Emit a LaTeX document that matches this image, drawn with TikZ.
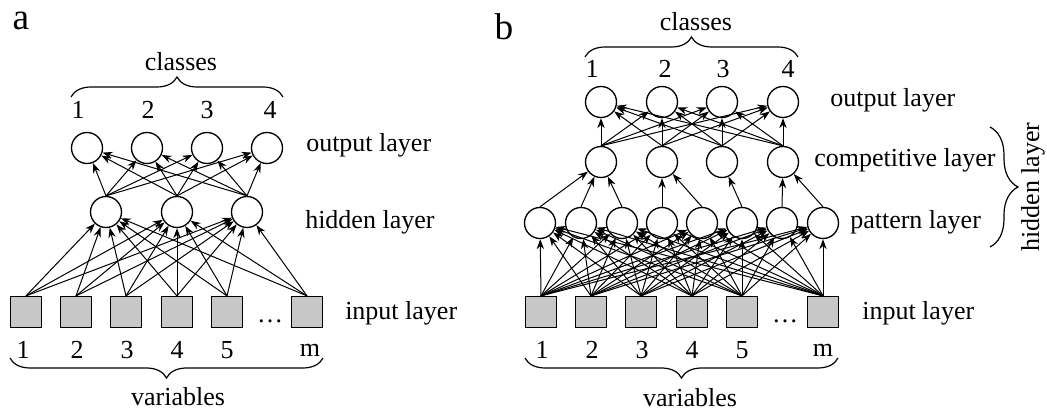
\documentclass[tikz,border=0pt]{standalone}
\usepackage{fontspec}
\setmainfont{Liberation Serif}
\usetikzlibrary{positioning,arrows.meta,decorations.pathreplacing}

\begin{document}
\begin{tikzpicture}[y=.75pt, x=.75pt, font=\fontsize{19.5}{23}\selectfont,
  neuron/.style={circle,draw,line width=1pt,minimum size=23.25pt,inner sep=0pt},
  inbox/.style={rectangle,draw,line width=.9pt,fill=black!22,minimum size=23.25pt,inner sep=0pt},
  conn/.style={line width=.75pt,-{Stealth[length=7.5pt,width=5.5pt]}},
  brc/.style={decorate,line width=.9pt,decoration={brace,amplitude=#1}},
  lbl/.style={anchor=west,inner sep=0pt},
  tag/.style={inner sep=0pt,font=\fontsize{28}{32}\selectfont}]
\useasboundingbox (0,0) rectangle (1047,-416);

% panel a
\node[tag] (ta) at (21,-21) {a};
\node (acls) at (181,-62) {classes};
\foreach \n/\x/\t in {1/78/1,2/148/2,3/207/3,4/270/4} \node (aon\n) at (\x,-110) {\t};
\foreach \n/\x in {1/87,2/147,3/207,4/267} \node[neuron] (ao\n) at (\x,-148) {};
\foreach \n/\x in {1/106,2/177,3/247} \node[neuron] (ah\n) at (\x,-212) {};
\foreach \n/\x in {1/26,2/76,3/126,4/177,5/227,6/307} \node[inbox] (ai\n) at (\x,-312) {};
\node (adots) at (270,-321) {\dots};
\foreach \n/\x/\t in {1/23/1,2/77/2,3/127/3,4/177/4,5/227/5,6/310/m} \node (ain\n) at (\x,-350) {\t};
\node (avar) at (178,-397) {variables};
\node[lbl] (aol) at (306,-145) {output layer};
\node[lbl] (ahl) at (305,-222) {hidden layer};
\node[lbl] (ail) at (345,-313) {input layer};

\draw[brc=15pt] (71,-97) -- (283,-97);
\draw[brc=15pt] (323,-358) -- (10,-358);

\foreach \i in {1,...,6} \foreach \j in {1,2,3} \draw[conn] (ai\i.north) -- (ah\j);
\foreach \i in {1,2,3} \foreach \j in {1,...,4} \draw[conn] (ah\i.north) -- (ao\j);

% panel b
\node[tag] (tb) at (504,-27) {b};
\node (bcls) at (696,-22) {classes};
\foreach \n/\x/\t in {1/592/1,2/665/2,3/723/3,4/788/4} \node (bon\n) at (\x,-69) {\t};
\foreach \n/\x in {1/601,2/662,3/722,4/783} \node[neuron] (bo\n) at (\x,-102) {};
\foreach \n/\x in {1/601,2/662,3/722,4/783} \node[neuron] (bc\n) at (\x,-162) {};
\foreach \n/\x in {1/540,2/581,3/622,4/662,5/702,6/742,7/782,8/823} \node[neuron] (bp\n) at (\x,-223) {};
\foreach \n/\x in {1/541,2/591,3/641,4/692,5/742,6/823} \node[inbox] (bi\n) at (\x,-312) {};
\node (bdots) at (785,-321) {\dots};
\foreach \n/\x/\t in {1/542/1,2/592/2,3/642/3,4/692/4,5/742/5,6/823/m} \node (bin\n) at (\x,-350) {\t};
\node (bvar) at (690,-398) {variables};
\node[lbl] (bol) at (830,-100) {output layer};
\node[lbl] (bcl) at (814,-160) {competitive layer};
\node[lbl] (bpl) at (850,-222) {pattern layer};
\node[lbl] (bil) at (862,-313) {input layer};
\node[rotate=90] (bhl) at (1033,-187) {hidden layer};

\draw[brc=15pt] (585,-57) -- (798,-57);
\draw[brc=15pt] (838,-358) -- (525,-358);
\draw[brc=21pt] (990,-127) -- (990,-247);

\foreach \i in {1,...,6} \foreach \j in {1,...,8} \draw[conn] (bi\i.north) -- (bp\j);
\foreach \i/\j in {1/1,2/1,3/1,4/2,5/2,6/3,7/4,8/4} \draw[conn] (bp\i.north) -- (bc\j);
\foreach \i in {1,...,4} \foreach \j in {1,...,4} \draw[conn] (bc\i.north) -- (bo\j);

\end{tikzpicture}
\end{document}
